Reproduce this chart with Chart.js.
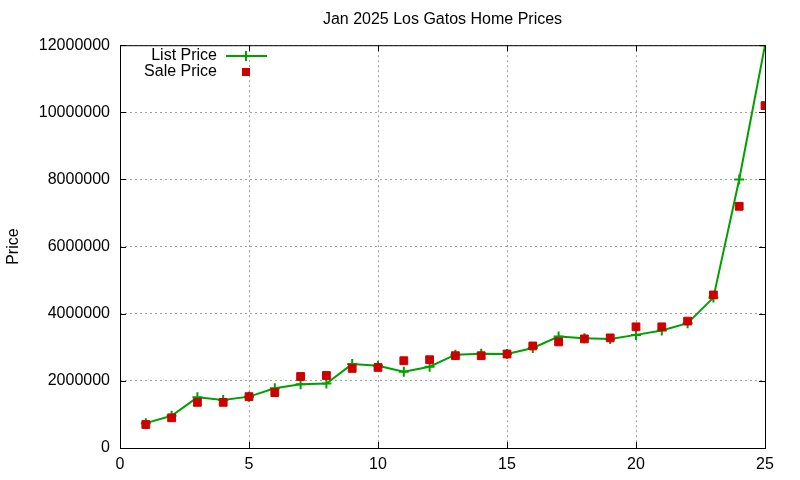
<!DOCTYPE html>
<html>
<head>
<meta charset="utf-8">
<script src="https://cdn.jsdelivr.net/npm/chart.js@4/dist/chart.umd.min.js"></script>
<style>
  html, body { margin: 0; padding: 0; background: #fff; }
  #wrap { width: 800px; height: 480px; }
</style>
</head>
<body>
<div id="wrap"><canvas id="myChart"></canvas></div>
<script>
// home index (1..25) and prices
let homes = [1, 2, 3, 4, 5, 6, 7, 8, 9, 10, 11, 12, 13, 14, 15, 16, 17, 18, 19, 20, 21, 22, 23, 24, 25];
let listPrice = [740000, 960000, 1510000, 1430000, 1530000, 1780000, 1900000, 1920000, 2500000, 2450000,
  2270000, 2420000, 2780000, 2810000, 2800000, 2980000, 3320000, 3270000, 3250000, 3370000,
  3500000, 3720000, 4480000, 8000000, 12000000];
let salePrice = [700000, 900000, 1360000, 1360000, 1530000, 1650000, 2130000, 2160000, 2370000, 2400000,
  2600000, 2630000, 2750000, 2750000, 2800000, 3040000, 3160000, 3250000, 3280000, 3610000,
  3610000, 3780000, 4560000, 7200000, 10200000];
let xTicks = [0, 5, 10, 15, 20, 25];
let yTicks = [0, 2000000, 4000000, 6000000, 8000000, 10000000, 12000000];
let chartTitle = 'Jan 2025 Los Gatos Home Prices';

const FONT = "'Liberation Sans', Arial, sans-serif";
const GREEN = '#00a000';
const RED = '#cc0000';

Chart.defaults.font.family = FONT;
Chart.defaults.font.size = 16;
Chart.defaults.color = '#000';

// gnuplot-ish frame: box, inward mirror ticks, title over the plot and a key inside it
const framePlugin = {
  id: 'frame',
  afterDatasetsDraw(chart) {
    const ctx = chart.ctx;
    const a = chart.chartArea;
    const xs = chart.scales.x, ys = chart.scales.y;
    ctx.save();
    ctx.strokeStyle = '#000';
    ctx.lineWidth = 1;
    ctx.strokeRect(a.left + 0.5, a.top + 0.5, a.right - a.left, a.bottom - a.top);
    ctx.beginPath();
    xTicks.forEach(v => {
      let px = Math.round(xs.getPixelForValue(v)) + 0.5;
      ctx.moveTo(px, a.bottom); ctx.lineTo(px, a.bottom - 6);
      ctx.moveTo(px, a.top); ctx.lineTo(px, a.top + 6);
    });
    yTicks.forEach(v => {
      let py = Math.round(ys.getPixelForValue(v)) + 0.5;
      ctx.moveTo(a.left, py); ctx.lineTo(a.left + 6, py);
      ctx.moveTo(a.right, py); ctx.lineTo(a.right - 6, py);
    });
    ctx.stroke();

    ctx.font = '16px ' + FONT;
    ctx.fillStyle = '#000';
    ctx.textBaseline = 'middle';
    ctx.textAlign = 'center';
    ctx.fillText(chartTitle, (a.left + a.right) / 2, 20);

    // key
    ctx.textAlign = 'right';
    const ds = chart.data.datasets;
    ctx.fillText(ds[0].label, 217, 56);
    ctx.fillText(ds[1].label, 217, 72);
    ctx.strokeStyle = GREEN;
    ctx.lineWidth = 2;
    ctx.beginPath();
    ctx.moveTo(226, 56); ctx.lineTo(267, 56);
    ctx.moveTo(246, 51); ctx.lineTo(246, 61);
    ctx.stroke();
    ctx.fillStyle = RED;
    ctx.fillRect(242, 68, 8, 8);
    ctx.restore();
  }
};

new Chart(document.getElementById('myChart').getContext('2d'), {
  type: 'line',
  data: {
    datasets: [{
      label: 'List Price',
      data: homes.map((h, i) => ({ x: h, y: listPrice[i] })),
      borderColor: GREEN,
      backgroundColor: GREEN,
      borderWidth: 2,
      pointStyle: 'cross',
      pointRadius: 5,
      pointBorderWidth: 2,
      tension: 0,
      order: 1
    }, {
      label: 'Sale Price',
      data: homes.map((h, i) => ({ x: h, y: salePrice[i] })),
      showLine: false,
      borderColor: RED,
      backgroundColor: RED,
      pointStyle: 'rect',
      pointRadius: 5.5,
      pointBorderWidth: 1,
      order: 0
    }]
  },
  options: {
    responsive: true,
    maintainAspectRatio: false,
    animation: false,
    layout: { padding: { right: 35, top: 0 } },
    plugins: {
      legend: { display: false },
      tooltip: { enabled: false },
      // keeps the space above the plot; the text itself is drawn centred on the plot
      title: {
        display: true,
        text: chartTitle,
        color: 'rgba(0,0,0,0)',
        font: { size: 16, weight: 'normal' },
        padding: { top: 10, bottom: 16 }
      }
    },
    scales: {
      x: {
        type: 'linear',
        min: 0,
        max: 25,
        afterBuildTicks: s => { s.ticks = xTicks.map(v => ({ value: v })); },
        afterFit: s => { s.height = 32; },
        ticks: { padding: 7, maxRotation: 0 },
        grid: { color: '#a0a0a0', drawTicks: false },
        border: { display: false, dash: [2, 3] }
      },
      y: {
        min: 0,
        max: 12000000,
        afterBuildTicks: s => { s.ticks = yTicks.map(v => ({ value: v })); },
        afterFit: s => { s.width = 120; },
        ticks: { padding: 10, callback: v => String(v) },
        grid: { color: '#a0a0a0', drawTicks: false },
        border: { display: false, dash: [2, 3] },
        title: { display: true, text: 'Price', font: { size: 16 }, padding: { top: 4, bottom: 0 } }
      }
    }
  },
  plugins: [framePlugin]
});
</script>
</body>
</html>
